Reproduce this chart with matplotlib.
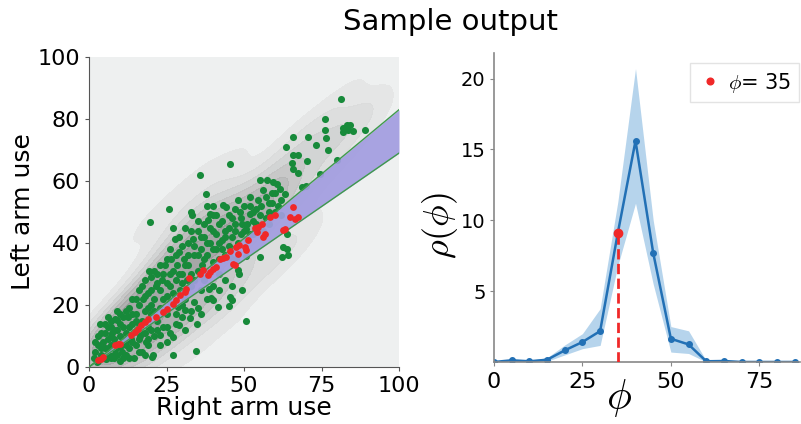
import numpy as np
import matplotlib
matplotlib.use("Agg")
import matplotlib.pyplot as plt

plt.rcParams['mathtext.fontset'] = 'cm'

# ---- left panel data: right vs left arm use ----
green_points = [
    (1.5, 3), (2, 5), (2.5, 1.5), (3, 7), (3, 10), (3.5, 13.8), (4, 4), (4.5, 8), (5, 6), (5, 11),
    (5.5, 2.5), (6, 9), (6, 13), (6.5, 4), (7, 7), (7, 15), (7.5, 11), (8, 3), (8, 9), (8.3, 15.6),
    (8.5, 5.5), (9, 12), (9, 15.3), (9.5, 7), (10, 2), (10, 10), (10, 17), (10.5, 5), (11, 13), (11.5, 8),
    (12, 4), (12, 11), (12.5, 16), (13, 6), (13, 19), (13.5, 9), (14, 14), (14, 22), (14.5, 3), (15, 7),
    (15, 17), (15.5, 12), (16, 20), (16, 25), (16.5, 10), (17, 5), (17, 15), (17.5, 22), (18, 18), (18, 28),
    (18.5, 8), (19, 13), (19, 24), (19.5, 31), (19.8, 46.8), (20, 17), (20, 20), (20.2, 3.2), (20.7, 3.8), (20, 29),
    (21, 10), (21, 22), (21.5, 26), (22, 15), (22, 30), (22.8, 10.2), (23, 19), (23, 25), (23.5, 28), (24, 13),
    (24, 22), (24.5, 33), (25, 8), (25, 17), (25, 27), (25.7, 51.1), (26, 21), (26, 30), (26.5, 35), (27, 4),
    (27, 9.7), (27, 24), (27.7, 41.4), (28, 14), (28, 28), (28.5, 33), (28.7, 19.4), (29, 13.4), (29, 37), (29.5, 25),
    (30, 16), (30, 30), (30.5, 35), (30.9, 18.3), (31, 22), (31.5, 28), (32, 33), (32, 40), (32.7, 15.9), (32.8, 50),
    (33, 26), (33.1, 48.9), (33.6, 41.4), (34, 36), (34, 21), (34.4, 5.1), (34.7, 14), (35, 31), (35, 44), (35.7, 61.8),
    (36, 25), (36, 38), (36.5, 33), (37, 28), (37, 42), (37.6, 55.7), (37.9, 30.1), (38, 36), (38.4, 47.3), (38.8, 25.3),
    (39, 49.5), (39, 40), (39.5, 22.4), (40, 48.9), (40, 21.5), (40, 34), (40, 44), (41, 38), (41.7, 19.4), (42, 46),
    (42, 30), (43, 41), (43.3, 52.2), (44, 36), (44.3, 51.6), (44, 44), (45, 39), (45.1, 19.7), (45.4, 22.6), (45.4, 35.5),
    (45.4, 65.6), (46, 42), (46.1, 21.5), (46, 48), (47, 44), (47.5, 34.9), (48, 31.2), (48, 40), (48.5, 30.1), (48.7, 50),
    (49, 43), (49.2, 24.9), (49.2, 46.2), (50, 44), (50.6, 44.6), (50.8, 14.7), (50.8, 35.7), (51, 41), (51.9, 49.5), (52, 43),
    (52, 52), (53, 47), (53, 50), (54, 46), (54.5, 54), (55, 49), (55.1, 35.5), (55.1, 60.2), (55.5, 52), (56, 44),
    (57, 55), (57.3, 60.4), (58, 50), (58, 46), (59.2, 59.7), (59, 53), (60.5, 59.1), (60, 56), (60, 50), (61.6, 57.5),
    (62, 54), (62.4, 35.5), (62.6, 38.7), (63.2, 55.9), (63.7, 71), (63.9, 38.2), (64.1, 36), (64, 43), (65.4, 65.8), (65.9, 64),
    (65.9, 68.3), (65.9, 74.2), (67.3, 62.6), (67.5, 68.3), (68.6, 58.1), (70, 58.3), (70.2, 66.5), (70.5, 74.2), (73.2, 71.7), (74.5, 62.4),
    (76.1, 76.6), (76.6, 74), (76.2, 80.1), (77.2, 69.9), (79.9, 66.9), (81.2, 86.6), (82, 77.2), (82, 75.8), (83.1, 78), (83.6, 76.3),
    (84.2, 78), (85.2, 76), (89, 76.5),
    (15, 22), (16, 14), (17, 26), (18, 23), (19, 19), (20, 25), (21, 18), (21, 31), (22, 27), (23, 33),
    (24, 30), (24, 18), (25, 23), (25, 35), (26, 26), (26, 38), (27, 31), (27, 45), (28, 36), (29, 30),
    (29, 42), (30, 27), (30, 39), (31, 33), (31, 45), (32, 36), (33, 30), (33, 44), (34, 39), (34, 28),
    (35, 36), (35, 47), (36, 42), (36, 30), (37, 46), (37, 35), (38, 40), (38, 52), (39, 45), (40, 38),
    (40, 52), (41, 43), (41, 49), (42, 40), (42, 35), (43, 47), (43, 38), (44, 42), (45, 45), (45, 49),
    (46, 38), (47, 51), (47, 46), (48, 54), (49, 48), (50, 52), (51, 46), (52, 55), (53, 43), (54, 51),
    (56, 57), (57, 48), (58, 53), (59, 56), (61, 52), (62, 49),
    (8, 4), (10, 6.5), (12, 7), (14, 8), (16, 9), (18, 11), (19, 7), (22, 12), (23, 7), (25, 13),
    (26, 11), (28, 17), (30, 20), (31, 12), (33, 18), (35, 19), (36, 17), (38, 22), (40, 26), (42, 25),
    (44, 28), (46, 26),
    (2, 8), (3, 2), (4, 11), (5, 14), (6, 6), (7, 3), (7, 10), (9, 4), (11, 3), (11, 16),
    (12, 9), (13, 13), (4, 6), (6, 16), (8, 12), (10, 14), (12, 18), (14, 17), (9, 18), (7, 13),
    (15, 15), (17, 11), (16, 5), (18, 4), (19, 9), (20, 12), (13, 3),
]

red_points = [
    (2.9, 2.2), (4, 2.7), (4.5, 3.2), (8.3, 7), (9.4, 7.5), (9.9, 7.5), (13.7, 10.2), (14.7, 11.3),
    (15.8, 12.4), (16.9, 13.4), (18, 14.5), (19, 15.6), (21.7, 16.1), (23.9, 17.7), (25, 18.8), (27.1, 20.4), (28.2, 21.5), (29.3, 23.1),
    (30.9, 24.2), (31.4, 25.3), (32.3, 28.8), (35.7, 30.1), (36.8, 31.2), (38.4, 29.6), (39, 30.6), (40, 31.7), (41.1, 32.3),
    (42.2, 34.9), (43.3, 35.3), (44.3, 35.5), (46.5, 33.3), (47, 32.8), (47.5, 38.7), (48.5, 39.2), (48, 36.6), (50.3, 38.7), (51.3, 40.9),
    (50.8, 37.6), (53.5, 44.9), (54.6, 45.2), (55.7, 46.2), (54.1, 43.5), (56.2, 41.9), (56.7, 43), (58.3, 48.4), (60, 48.9), (65.9, 51.6),
    (63.2, 44.6), (64.8, 48.4), (66.4, 47.8), (67.5, 48.4), (62.6, 44.1), (45.5, 37.5),
]

band_slope_hi = 0.83
band_slope_lo = 0.69

# ---- right panel data: rho(phi) ----
phi = [0, 5, 10, 15, 20, 25, 30, 35, 40, 45, 50, 55, 60, 65, 70, 75, 80, 85]
rho = [0.0, 0.12, 0.05, 0.16, 0.82, 1.41, 2.18, 9.1, 15.6, 7.7, 1.64, 1.24, 0.05, 0.07, 0.0, 0.0, 0.0, 0.0]
rho_lo = [0.0, 0.05, 0.0, 0.05, 0.5, 0.94, 1.17, 6.8, 11.2, 5.5, 0.7, 0.6, 0.0, 0.0, 0.0, 0.0, 0.0, 0.0]
rho_hi = [0.05, 0.2, 0.12, 0.3, 1.2, 2.0, 3.76, 11.3, 20.7, 10.0, 2.5, 2.2, 0.1, 0.12, 0.0, 0.0, 0.0, 0.0]
phi_sel = 35
rho_sel = 9.1


def kde_grid(pts, n=200):
    # gaussian kde with full covariance (Scott's rule)
    d = np.asarray(pts).T
    cov = np.cov(d) * len(pts) ** (-2 / 6)
    inv = np.linalg.inv(cov)
    gx, gy = np.meshgrid(np.linspace(-2, 102, n), np.linspace(-2, 102, n))
    dx = gx[..., None] - d[0]
    dy = gy[..., None] - d[1]
    q = inv[0, 0] * dx ** 2 + 2 * inv[0, 1] * dx * dy + inv[1, 1] * dy ** 2
    z = np.exp(-0.5 * q).sum(-1)
    return gx, gy, z / z.max()


def main():
    fig = plt.figure(figsize=(8.01, 4.24), dpi=100)
    ax = fig.add_axes([89 / 801, 1 - 367 / 424, 310 / 801, 310 / 424])
    ax2 = fig.add_axes([494 / 801, 1 - 362 / 424, 306 / 801, 309 / 424])

    fig.text(0.563, 0.947, 'Sample output', ha='center', va='center', fontsize=21)

    # left panel
    gp = np.array(green_points)
    rp = np.array(red_points)
    ax.set_facecolor('#eef0f0')
    gx, gy, z = kde_grid(gp)
    levels = [0.03, 0.1, 0.2, 0.32, 0.45, 0.6, 0.75, 1.01]
    greys = ['#e4e5e5', '#dadbdb', '#cecfcf', '#c2c2c2', '#b4b4b4', '#a6a6a6', '#9a9a9a']
    ax.contourf(gx, gy, z, levels=levels, colors=greys, alpha=0.85)

    ax.scatter(gp[:, 0], gp[:, 1], s=26, color='#178a3a', lw=0, zorder=3)

    xs = np.array([0, 100])
    ax.fill_between(xs, band_slope_lo * xs, band_slope_hi * xs, color='#a29de0', alpha=0.92, lw=0, zorder=3.5)
    ax.plot(xs, band_slope_hi * xs, color='#3f9a4c', lw=1, zorder=3.6)
    ax.plot(xs, band_slope_lo * xs, color='#3f9a4c', lw=1, zorder=3.6)

    ax.scatter(rp[:, 0], rp[:, 1], s=24, color='#f02828', lw=0, zorder=4)

    ax.set_xlim(0, 100)
    ax.set_ylim(0, 100)
    ax.set_xticks([0, 25, 50, 75, 100])
    ax.set_yticks([0, 20, 40, 60, 80, 100])
    ax.tick_params(labelsize=16, length=3, color='#555555')
    ax.spines['top'].set_visible(False)
    ax.spines['right'].set_visible(False)
    for s in ('left', 'bottom'):
        ax.spines[s].set_color('#555555')
    ax.set_xlabel('Right arm use', fontsize=18, labelpad=0)
    ax.set_ylabel('Left arm use', fontsize=18, labelpad=2)

    # right panel
    ax2.fill_between(phi, rho_lo, rho_hi, color='#a9cde9', alpha=0.85, lw=0)
    ax2.plot(phi, rho, '-o', color='#2270b5', ms=4, lw=1.8)
    ax2.vlines(phi_sel, 0, rho_sel, colors='#f02828', linestyles='--', lw=2, zorder=4)
    ax2.plot([phi_sel], [rho_sel], 'o', color='#f02828', ms=6, zorder=5,
             label=r'$\phi$= 35')

    ax2.set_xlim(0, 86.5)
    ax2.set_ylim(0, 21.8)
    ax2.set_xticks([0, 25, 50, 75])
    ax2.set_yticks([5, 10, 15, 20])
    ax2.tick_params(axis='x', labelsize=16, length=3, color='#888888', pad=4)
    ax2.tick_params(axis='y', labelsize=14, length=3, color='#888888', pad=3)
    ax2.spines['top'].set_visible(False)
    ax2.spines['right'].set_visible(False)
    for s in ('left', 'bottom'):
        ax2.spines[s].set_color('#888888')
        ax2.spines[s].set_linewidth(1.2)
    ax2.set_xlabel(r'$\phi$', fontsize=30)
    ax2.xaxis.set_label_coords(0.41, -0.05, transform=ax2.transAxes)
    ax2.xaxis.label.set_va('top')
    ax2.set_ylabel(r'$\rho(\phi)$', fontsize=26)
    ax2.yaxis.set_label_coords(-0.11, 0.44, transform=ax2.transAxes)
    ax2.legend(loc='upper right', handletextpad=0.3, borderpad=0.35,
               edgecolor='#dddddd', fancybox=False, handlelength=1.2, markerscale=0.8,
               bbox_to_anchor=(1.03, 1.0), prop={'size': 15})

    plt.savefig('out.png', dpi=100)


if __name__ == '__main__':
    main()
